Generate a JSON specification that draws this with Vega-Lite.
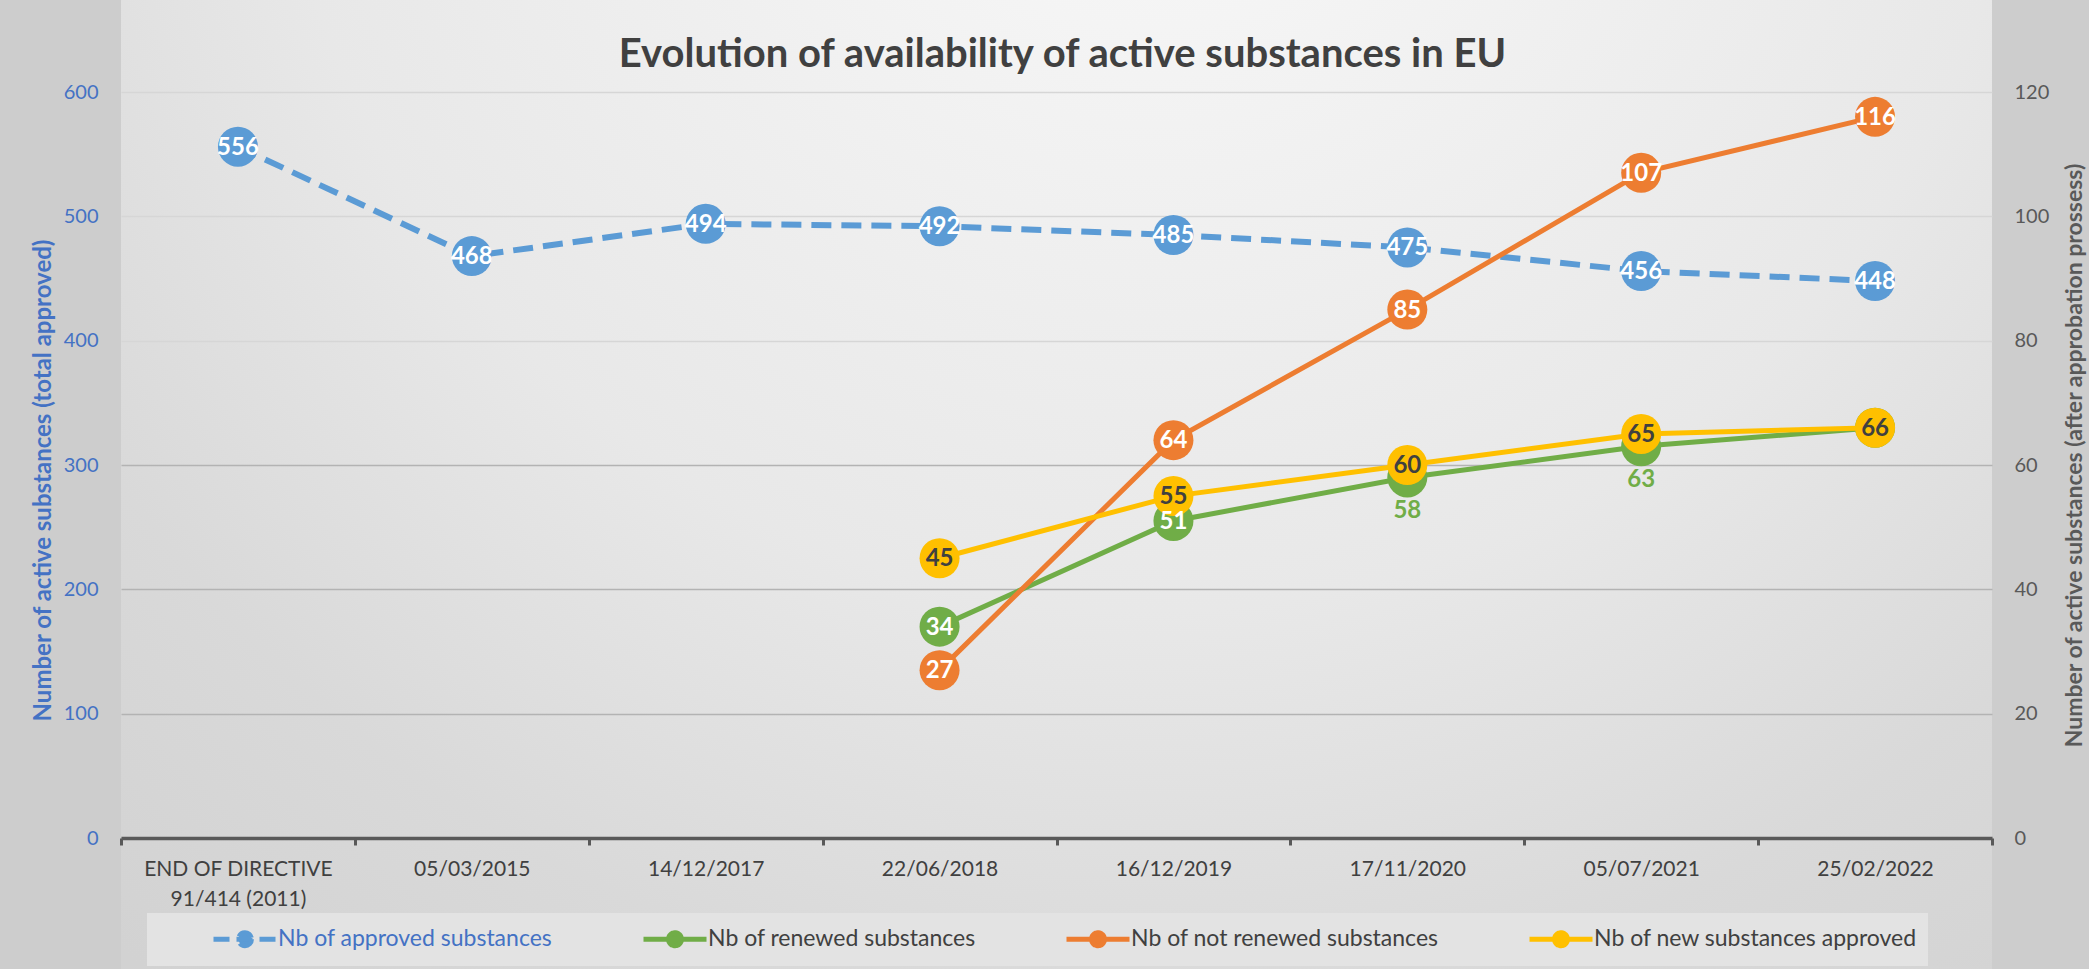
{
  "$schema": "https://vega.github.io/schema/vega-lite/v6.json",
  "width": 1871,
  "height": 969,
  "autosize": {"type": "none"},
  "padding": {"left": 121, "top": 0, "right": 97, "bottom": 0},
  "background": "#cdcdcd",
  "config": {
    "font": "Lato",
    "view": {
      "stroke": null,
      "fill": {
        "gradient": "radial",
        "x1": 0.55, "y1": 0.1, "r1": 0,
        "x2": 0.55, "y2": 0.1, "r2": 0.85,
        "stops": [
          {"offset": 0, "color": "#fafafa"},
          {"offset": 0.55, "color": "#e8e8e8"},
          {"offset": 0.8, "color": "#d9d9d9"},
          {"offset": 1, "color": "#d2d2d2"}
        ]
      }
    }
  },
  "title": {
    "text": "Evolution of availability of active substances in EU",
    "font": "Lato",
    "fontSize": 40,
    "fontWeight": "bold",
    "color": "#404040",
    "anchor": "middle",
    "offset": -107,
    "dx": 6,
    "baseline": "alphabetic"
  },
  "data": {
    "values": [
      {"date": "END OF DIRECTIVE 91/414 (2011)", "series": "Nb of approved substances", "value": 556},
      {"date": "05/03/2015", "series": "Nb of approved substances", "value": 468},
      {"date": "14/12/2017", "series": "Nb of approved substances", "value": 494},
      {"date": "22/06/2018", "series": "Nb of approved substances", "value": 492},
      {"date": "16/12/2019", "series": "Nb of approved substances", "value": 485},
      {"date": "17/11/2020", "series": "Nb of approved substances", "value": 475},
      {"date": "05/07/2021", "series": "Nb of approved substances", "value": 456},
      {"date": "25/02/2022", "series": "Nb of approved substances", "value": 448},
      {"date": "22/06/2018", "series": "Nb of renewed substances", "value": 34},
      {"date": "16/12/2019", "series": "Nb of renewed substances", "value": 51},
      {"date": "17/11/2020", "series": "Nb of renewed substances", "value": 58},
      {"date": "05/07/2021", "series": "Nb of renewed substances", "value": 63},
      {"date": "25/02/2022", "series": "Nb of renewed substances", "value": 66},
      {"date": "22/06/2018", "series": "Nb of not renewed substances", "value": 27},
      {"date": "16/12/2019", "series": "Nb of not renewed substances", "value": 64},
      {"date": "17/11/2020", "series": "Nb of not renewed substances", "value": 85},
      {"date": "05/07/2021", "series": "Nb of not renewed substances", "value": 107},
      {"date": "25/02/2022", "series": "Nb of not renewed substances", "value": 116},
      {"date": "22/06/2018", "series": "Nb of new substances approved", "value": 45},
      {"date": "16/12/2019", "series": "Nb of new substances approved", "value": 55},
      {"date": "17/11/2020", "series": "Nb of new substances approved", "value": 60},
      {"date": "05/07/2021", "series": "Nb of new substances approved", "value": 65},
      {"date": "25/02/2022", "series": "Nb of new substances approved", "value": 66}
    ]
  },
  "encoding": {
    "x": {
      "field": "date",
      "type": "nominal",
      "sort": null,
      "scale": {
        "type": "band",
        "domain": ["END OF DIRECTIVE 91/414 (2011)", "05/03/2015", "14/12/2017", "22/06/2018", "16/12/2019", "17/11/2020", "05/07/2021", "25/02/2022"],
        "paddingInner": 0,
        "paddingOuter": 0
      },
      "axis": {
        "orient": "bottom",
        "offset": -131,
        "title": null,
        "labelAngle": 0,
        "labelFont": "Lato",
        "labelFontSize": 21,
        "labelColor": "#404040",
        "labelPadding": 13,
        "labelLineHeight": 30,
        "labelBaseline": "top",
        "labelLimit": 0,
        "labelExpr": "datum.value == 'END OF DIRECTIVE 91/414 (2011)' ? ['END OF DIRECTIVE', '91/414 (2011)'] : datum.label",
        "domainColor": "#595959",
        "domainWidth": 3.5,
        "tickColor": "#595959",
        "tickWidth": 3,
        "tickSize": 7,
        "tickBand": "extent",
        "grid": false
      }
    },
    "color": {
      "field": "series",
      "type": "nominal",
      "scale": {
        "domain": ["Nb of approved substances", "Nb of renewed substances", "Nb of not renewed substances", "Nb of new substances approved"],
        "range": ["#5B9BD5", "#70AD47", "#ED7D31", "#FFC000"]
      },
      "legend": {
        "orient": "none",
        "legendX": 26,
        "legendY": 913,
        "direction": "horizontal",
        "title": " ",
        "titleOrient": "left",
        "titlePadding": 54,
        "padding": 10,
        "fillColor": "#e3e3e3",
        "strokeColor": null,
        "symbolType": "M-1,0H3.667M1.813,0A0.48,0.48,0,1,1,0.853,0A0.48,0.48,0,1,1,1.813,0Z",
        "symbolSize": 729,
        "symbolStrokeWidth": 5,
        "labelOffset": 35,
        "columnPadding": 80,
        "labelFont": "Lato",
        "labelFontSize": 23,
        "labelColor": "#404040",
        "labelLimit": 0,
        "encode": {
          "symbols": {
            "update": {
              "fill": {"signal": "scale('color', datum.value)"},
              "stroke": {"signal": "scale('color', datum.value)"},
              "strokeDash": {"signal": "datum.value == 'Nb of approved substances' ? [16,7] : [1,0]"},
              "opacity": {"value": 1}
            }
          },
          "labels": {
            "update": {
              "fill": {"signal": "datum.value == 'Nb of approved substances' ? '#4472C4' : '#404040'"}
            }
          }
        }
      }
    }
  },
  "layer": [
    {
      "transform": [{"filter": "datum.series == 'Nb of approved substances'"}],
      "encoding": {
        "y": {
          "field": "value",
          "type": "quantitative",
          "scale": {"domain": [0, 600], "range": [838, 92], "nice": false, "zero": false},
          "axis": {
            "orient": "left",
            "values": [0, 100, 200, 300, 400, 500, 600],
            "domain": false,
            "ticks": false,
            "tickSize": 0,
            "labelPadding": 23,
            "labelFont": "Lato",
            "labelFontSize": 20,
            "labelColor": "#4472C4",
            "grid": true,
            "gridColor": {"condition": {"test": "datum.value >= 400", "value": "#d6d6d6"}, "value": "#b3b3b3"},
            "gridWidth": 1.5,
            "title": "Number of active substances (total approved)",
            "titleFont": "Lato",
            "titleFontSize": 24,
            "titleFontWeight": "bold",
            "titleColor": "#4472C4",
            "titleX": -78,
            "titleY": 480,
            "titleBaseline": "middle"
          }
        }
      },
      "layer": [
        {"mark": {"type": "line", "strokeWidth": 6, "strokeDash": [20, 10]}},
        {"mark": {"type": "circle", "size": 1600, "opacity": 1}},
        {
          "mark": {"type": "text", "font": "Lato", "fontWeight": "bold", "fontSize": 24, "baseline": "middle", "dy": 1},
          "encoding": {"text": {"field": "value", "type": "quantitative"}, "color": {"value": "white"}}
        }
      ]
    },
    {
      "transform": [{"filter": "datum.series != 'Nb of approved substances'"}],
      "encoding": {
        "y": {
          "field": "value",
          "type": "quantitative",
          "scale": {"domain": [0, 120], "range": [838, 92], "nice": false, "zero": false},
          "axis": {
            "orient": "right",
            "values": [0, 20, 40, 60, 80, 100, 120],
            "domain": false,
            "ticks": false,
            "tickSize": 0,
            "labelPadding": 22,
            "labelFont": "Lato",
            "labelFontSize": 20,
            "labelColor": "#595959",
            "grid": false,
            "title": "Number of active substances (after approbation prossess)",
            "titleFont": "Lato",
            "titleFontSize": 23,
            "titleFontWeight": "bold",
            "titleColor": "#595959",
            "titleAngle": -90,
            "titleX": 82,
            "titleY": 455,
            "titleBaseline": "middle"
          }
        }
      },
      "layer": [
        {"transform": [{"filter": "datum.series == 'Nb of renewed substances'"}], "mark": {"type": "line", "strokeWidth": 5}},
        {"transform": [{"filter": "datum.series == 'Nb of renewed substances'"}], "mark": {"type": "circle", "size": 1600, "opacity": 1}},
        {"transform": [{"filter": "datum.series == 'Nb of not renewed substances'"}], "mark": {"type": "line", "strokeWidth": 5}},
        {"transform": [{"filter": "datum.series == 'Nb of not renewed substances'"}], "mark": {"type": "circle", "size": 1600, "opacity": 1}},
        {"transform": [{"filter": "datum.series == 'Nb of new substances approved'"}], "mark": {"type": "line", "strokeWidth": 5}},
        {"transform": [{"filter": "datum.series == 'Nb of new substances approved'"}], "mark": {"type": "circle", "size": 1600, "opacity": 1}},
        {
          "transform": [{"filter": "datum.series == 'Nb of renewed substances' && (datum.date == '22/06/2018' || datum.date == '16/12/2019')"}],
          "mark": {"type": "text", "font": "Lato", "fontWeight": "bold", "fontSize": 24, "baseline": "middle", "dy": 1},
          "encoding": {"text": {"field": "value", "type": "quantitative"}, "color": {"value": "white"}}
        },
        {
          "transform": [{"filter": "datum.series == 'Nb of renewed substances' && (datum.date == '17/11/2020' || datum.date == '05/07/2021')"}],
          "mark": {"type": "text", "font": "Lato", "fontWeight": "bold", "fontSize": 24, "baseline": "middle", "dy": 34},
          "encoding": {"text": {"field": "value", "type": "quantitative"}, "color": {"value": "#70AD47"}}
        },
        {
          "transform": [{"filter": "datum.series == 'Nb of not renewed substances'"}],
          "mark": {"type": "text", "font": "Lato", "fontWeight": "bold", "fontSize": 24, "baseline": "middle", "dy": 1},
          "encoding": {"text": {"field": "value", "type": "quantitative"}, "color": {"value": "white"}}
        },
        {
          "transform": [{"filter": "datum.series == 'Nb of new substances approved'"}],
          "mark": {"type": "text", "font": "Lato", "fontWeight": "bold", "fontSize": 24, "baseline": "middle", "dy": 1},
          "encoding": {"text": {"field": "value", "type": "quantitative"}, "color": {"value": "#404040"}}
        }
      ]
    }
  ],
  "resolve": {"scale": {"y": "independent"}}
}
